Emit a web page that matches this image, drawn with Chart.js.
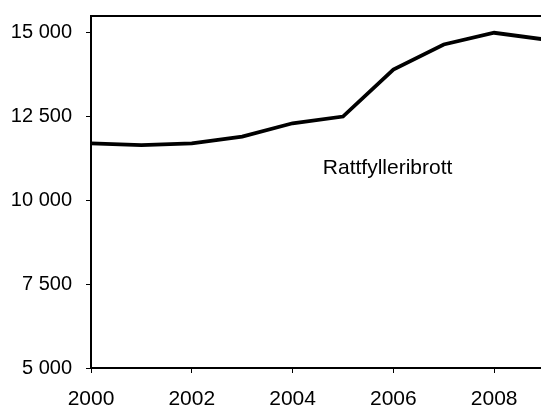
<!DOCTYPE html>
<html lang="sv">
<head>
    <meta charset="UTF-8">
    <title>Rattfylleribrott</title>
    <script src="https://cdn.jsdelivr.net/npm/chart.js"></script>
    <style>
        body { margin: 0; background: #fff; overflow: hidden; }
    </style>
</head>
<body>
    <canvas id="chart" width="541" height="406"></canvas>

    <script>
// Data
const years = [2000, 2001, 2002, 2003, 2004, 2005, 2006, 2007, 2008, 2009];
const offences = [11700, 11650, 11700, 11900, 12300, 12500, 13900, 14650, 15000, 14800];
const seriesLabel = 'Rattfylleribrott';

// Tick values shown on the axes
const xTicks = [2000, 2002, 2004, 2006, 2008];
const yTicks = [5000, 7500, 10000, 12500, 15000];

// Format numbers with a space as thousands separator ("15 000")
function spaced(v) {
    return String(v).replace(/\B(?=(\d{3})+(?!\d))/g, ' ');
}

// Top frame line plus the series name written inside the plot
const framePlugin = {
    id: 'frame',
    afterDraw(chart) {
        const { ctx, chartArea, scales } = chart;
        ctx.save();
        ctx.strokeStyle = '#000';
        ctx.lineWidth = 2;
        ctx.beginPath();
        ctx.moveTo(chartArea.left, chartArea.top);
        ctx.lineTo(chartArea.right, chartArea.top);
        ctx.stroke();

        ctx.fillStyle = '#000';
        ctx.font = '21px "Liberation Sans", Arial, sans-serif';
        ctx.textBaseline = 'alphabetic';
        ctx.textAlign = 'left';
        ctx.fillText(seriesLabel, scales.x.getPixelForValue(2004.6), scales.y.getPixelForValue(10780));
        ctx.restore();
    }
};

new Chart(document.getElementById('chart'), {
    type: 'line',
    data: {
        datasets: [{
            label: seriesLabel,
            data: years.map((y, i) => ({ x: y, y: offences[i] })),
            borderColor: '#000',
            borderWidth: 3.8,
            pointRadius: 0,
            tension: 0,
            fill: false
        }]
    },
    options: {
        responsive: false,
        animation: false,
        layout: { padding: { top: 16, right: 0, left: 0, bottom: 0 } },
        plugins: {
            legend: { display: false },
            tooltip: { enabled: false }
        },
        scales: {
            x: {
                type: 'linear',
                min: 2000,
                max: 2008.93,
                afterBuildTicks(scale) { scale.ticks = xTicks.map(v => ({ value: v })); },
                afterFit(scale) {
                    scale.height = 38;
                    scale.paddingLeft = 0;
                    scale.paddingRight = 0;
                },
                border: { display: true, color: '#000', width: 2 },
                grid: { drawOnChartArea: false, drawTicks: true, tickLength: 5, color: '#000' },
                ticks: {
                    padding: 14,
                    color: '#000',
                    font: { family: '"Liberation Sans", Arial, sans-serif', size: 21 },
                    maxRotation: 0,
                    autoSkip: false,
                    callback: v => String(v)
                }
            },
            y: {
                min: 5000,
                max: 15500,
                afterBuildTicks(scale) { scale.ticks = yTicks.map(v => ({ value: v })); },
                afterFit(scale) {
                    scale.width = 91;
                    scale.paddingTop = 0;
                    scale.paddingBottom = 0;
                },
                border: { display: true, color: '#000', width: 2 },
                grid: { drawOnChartArea: false, drawTicks: true, tickLength: 5, color: '#000' },
                ticks: {
                    padding: 14,
                    color: '#000',
                    autoSkip: false,
                    font: { family: '"Liberation Sans", Arial, sans-serif', size: 20 },
                    callback: v => spaced(v)
                }
            }
        }
    },
    plugins: [framePlugin]
});
    </script>
</body>
</html>
